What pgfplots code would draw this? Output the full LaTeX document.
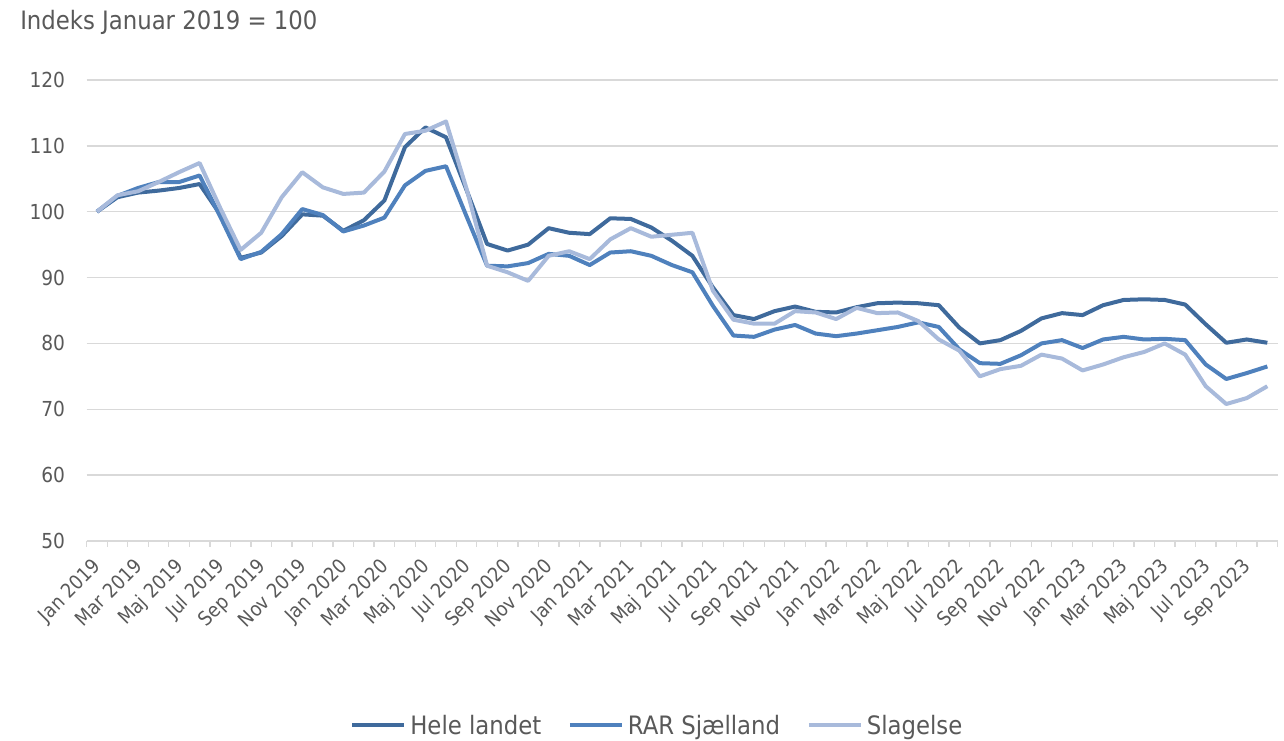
\documentclass[border=0pt]{standalone}
\usepackage{fontspec}
\setmainfont{DejaVu Sans Condensed}
\usepackage{pgfplots}
\pgfplotsset{compat=1.18}
\usepackage{pgfplotstable}
\definecolor{txtgray}{HTML}{595959}
\definecolor{gridgray}{HTML}{D9D9D9}
\definecolor{cA}{HTML}{3F6A9C}
\definecolor{cB}{HTML}{4F81BD}
\definecolor{cC}{HTML}{A8BADB}

\pgfplotstableread{
i A B C
0 100 100 100
1 102.2 102.4 102.5
2 102.9 103.6 103.1
3 103.2 104.5 104.5
4 103.6 104.5 106.0
5 104.2 105.5 107.4
6 99.6 99.3 100.6
7 93.0 92.8 94.2
8 93.8 93.9 96.8
9 96.3 96.6 102.2
10 99.6 100.4 106.0
11 99.4 99.5 103.7
12 97.1 97.0 102.7
13 98.7 97.9 102.9
14 101.7 99.1 106.1
15 109.8 104.0 111.8
16 112.8 106.2 112.3
17 111.3 106.9 113.7
18 103.3 99.3 103.5
19 95.1 91.8 91.8
20 94.1 91.7 90.8
21 95.0 92.2 89.5
22 97.5 93.6 93.3
23 96.8 93.3 94.0
24 96.6 91.9 92.8
25 99.0 93.8 95.8
26 98.9 94.0 97.5
27 97.6 93.3 96.2
28 95.6 91.9 96.5
29 93.3 90.8 96.8
30 88.5 85.7 88.0
31 84.3 81.2 83.6
32 83.7 81.0 83.0
33 84.9 82.1 83.0
34 85.6 82.8 84.9
35 84.8 81.5 84.7
36 84.7 81.1 83.7
37 85.5 81.5 85.4
38 86.1 82.0 84.6
39 86.2 82.5 84.7
40 86.1 83.2 83.4
41 85.8 82.5 80.6
42 82.4 79.1 78.9
43 80.0 77.0 75.0
44 80.5 76.9 76.1
45 81.9 78.2 76.6
46 83.8 80.0 78.3
47 84.6 80.5 77.7
48 84.3 79.3 75.9
49 85.8 80.6 76.8
50 86.6 81.0 77.9
51 86.7 80.6 78.7
52 86.6 80.7 80.0
53 85.9 80.5 78.3
54 82.9 76.8 73.5
55 80.1 74.6 70.8
56 80.6 75.5 71.7
57 80.1 76.5 73.5
}\data

\newcommand{\tickfont}{\fontsize{15.5}{18}\selectfont}
\newcommand{\xtickfont}{\fontsize{14.8}{17}\selectfont}
\newcommand{\bigfont}{\fontsize{19}{22}\selectfont}

\begin{document}
\begin{tikzpicture}
\begin{axis}[
  at={(0pt,0pt)}, anchor=south west,
  width=893.2pt, height=345.75pt, scale only axis,
  xmin=-0.5, xmax=57.5, ymin=50, ymax=120,
  ytick={50,60,...,120},
  /pgf/number format/assume math mode=true,
  xtick={0,2,...,56},
  xticklabels={Jan 2019,Mar 2019,Maj 2019,Jul 2019,Sep 2019,Nov 2019,
    Jan 2020,Mar 2020,Maj 2020,Jul 2020,Sep 2020,Nov 2020,
    Jan 2021,Mar 2021,Maj 2021,Jul 2021,Sep 2021,Nov 2021,
    Jan 2022,Mar 2022,Maj 2022,Jul 2022,Sep 2022,Nov 2022,
    Jan 2023,Mar 2023,Maj 2023,Jul 2023,Sep 2023},
  minor xtick={-0.5,0.5,...,57.6},
  major tick length=0pt,
  minor tick length=4.5pt,
  tick align=outside,
  tick pos=left,
  minor tick style={gridgray, line width=1pt},
  ytick style={draw=none},
  axis line style={draw=none},
  ymajorgrids,
  major grid style={gridgray, line width=1.1pt},
  yticklabel style={font=\tickfont, text=txtgray, inner sep=0pt, xshift=-16pt},
  xticklabel style={font=\xtickfont, text=txtgray, inner sep=0pt, xshift=-4pt, yshift=-12pt, rotate=45, anchor=north east},
  legend style={at={(0.48,-0.40)}, anchor=center, draw=none, fill=none,
    font=\bigfont, text=txtgray, legend columns=3,
    /tikz/every even column/.append style={column sep=17pt},
    nodes={inner xsep=3pt, inner ysep=0pt}},
  legend image code/.code={\draw[#1, line cap=butt] (0pt,0pt) -- (39pt,0pt);},
]
\addplot[cA, line width=3pt, line join=round] table[x=i, y=A]{\data};
\addplot[cB, line width=3pt, line join=round] table[x=i, y=B]{\data};
\addplot[cC, line width=3pt, line join=round] table[x=i, y=C]{\data};
\legend{Hele landet, RAR Sjælland, Slagelse}
\end{axis}
\node[anchor=base west, inner sep=0pt, font=\bigfont, text=txtgray] at (-50pt,383.25pt) {Indeks Januar 2019 = 100};
\pgfresetboundingbox
\path[use as bounding box] (-65pt,-150pt) rectangle (898pt,405.75pt);
\end{tikzpicture}
\end{document}
